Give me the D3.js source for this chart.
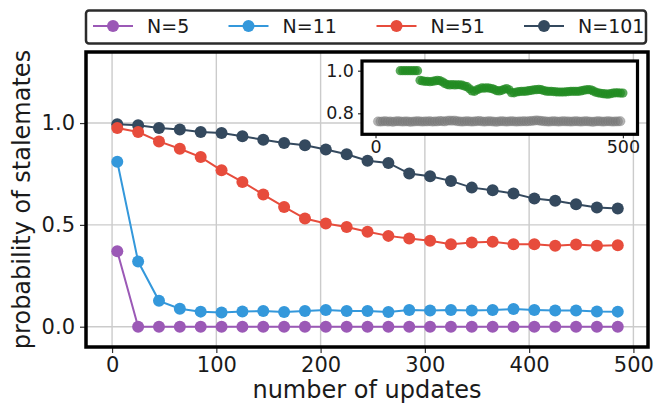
<!DOCTYPE html>
<html>
<head>
<meta charset="utf-8">
<script src="https://cdn.jsdelivr.net/npm/d3@7"></script>
<style>
  html, body { margin: 0; padding: 0; background: #fff; }
  svg { display: block; font-family: "DejaVu Sans", sans-serif; }
</style>
</head>
<body>
<script>
// main chart data
const updates = [5, 25, 45, 65, 85, 105, 125, 145, 165, 185, 205, 225, 245, 265, 285, 305, 325, 345, 365, 385, 405, 425, 445, 465, 485];
const n5 = [0.37, 0, 0, 0, 0, 0, 0, 0, 0, 0, 0, 0, 0, 0, 0, 0, 0, 0, 0, 0, 0, 0, 0, 0, 0];
const n11 = [0.81, 0.32, 0.127, 0.088, 0.074, 0.070, 0.075, 0.077, 0.072, 0.077, 0.082, 0.077, 0.077,
             0.072, 0.082, 0.079, 0.082, 0.080, 0.082, 0.087, 0.082, 0.079, 0.079, 0.075, 0.074];
const n51 = [0.976, 0.956, 0.910, 0.874, 0.833, 0.768, 0.711, 0.649, 0.588, 0.531, 0.507, 0.490, 0.466,
             0.446, 0.433, 0.422, 0.405, 0.414, 0.417, 0.405, 0.405, 0.397, 0.404, 0.397, 0.400];
const n101 = [0.994, 0.989, 0.976, 0.968, 0.956, 0.951, 0.935, 0.918, 0.902, 0.891, 0.870, 0.847, 0.815,
              0.804, 0.752, 0.739, 0.716, 0.683, 0.670, 0.654, 0.629, 0.618, 0.601, 0.585, 0.580];
const seriesNames = ["N=5", "N=11", "N=51", "N=101"];
const seriesColors = ["#9b59b6", "#3498db", "#e74c3c", "#34495e"];
const xTicks = [0, 100, 200, 300, 400, 500];
const yTicks = [0.0, 0.5, 1.0];

// inset data
const grayX = [5, 10, 15, 20, 25, 30, 35, 40, 45, 50, 55, 60, 65, 70, 75, 80, 85, 90, 95, 100,
               105, 110, 115, 120, 125, 130, 135, 140, 145, 150, 155, 160, 165, 170, 175, 180, 185, 190, 195, 200,
               205, 210, 215, 220, 225, 230, 235, 240, 245, 250, 255, 260, 265, 270, 275, 280, 285, 290, 295, 300,
               305, 310, 315, 320, 325, 330, 335, 340, 345, 350, 355, 360, 365, 370, 375, 380, 385, 390, 395, 400,
               405, 410, 415, 420, 425, 430, 435, 440, 445, 450, 455, 460, 465, 470, 475, 480, 485, 490, 495];
const grayY = [0.762, 0.761, 0.762, 0.763, 0.761, 0.762, 0.760, 0.762, 0.763, 0.762,
               0.761, 0.762, 0.762, 0.760, 0.761, 0.762, 0.763, 0.762, 0.761, 0.762,
               0.762, 0.763, 0.761, 0.762, 0.762, 0.764, 0.763, 0.762, 0.765, 0.766,
               0.765, 0.766, 0.763, 0.762, 0.761, 0.762, 0.763, 0.762, 0.761, 0.762,
               0.763, 0.764, 0.762, 0.761, 0.762, 0.763, 0.762, 0.761, 0.760, 0.762,
               0.763, 0.762, 0.761, 0.762, 0.763, 0.762, 0.761, 0.762, 0.762, 0.763,
               0.762, 0.763, 0.764, 0.765, 0.767, 0.766, 0.764, 0.763, 0.762, 0.761,
               0.762, 0.763, 0.762, 0.761, 0.762, 0.763, 0.762, 0.762, 0.761, 0.762,
               0.763, 0.762, 0.761, 0.762, 0.763, 0.762, 0.761, 0.760, 0.762, 0.763,
               0.762, 0.761, 0.762, 0.763, 0.762, 0.761, 0.762, 0.762, 0.763];
const greenX = [50, 55, 60, 65, 70, 75, 80, 85, 90, 95, 100, 105, 110, 115, 120, 125, 130, 135, 140, 145,
                150, 155, 160, 165, 170, 175, 180, 185, 190, 195, 200, 205, 210, 215, 220, 225, 230, 235, 240, 245,
                250, 255, 260, 265, 270, 275, 280, 285, 290, 295, 300, 305, 310, 315, 320, 325, 330, 335, 340, 345,
                350, 355, 360, 365, 370, 375, 380, 385, 390, 395, 400, 405, 410, 415, 420, 425, 430, 435, 440, 445,
                450, 455, 460, 465, 470, 475, 480, 485, 490, 495, 500];
const greenY = [1.0, 1.0, 1.0, 1.0, 1.0, 1.0, 1.0, 1.0, 0.955, 0.952,
                0.950, 0.950, 0.948, 0.950, 0.952, 0.955, 0.953, 0.948, 0.940, 0.935,
                0.933, 0.935, 0.933, 0.934, 0.934, 0.932, 0.928, 0.925, 0.915, 0.905,
                0.903, 0.910, 0.915, 0.919, 0.918, 0.920, 0.918, 0.916, 0.912, 0.906,
                0.905, 0.908, 0.913, 0.916, 0.910, 0.897, 0.896, 0.900, 0.902, 0.903,
                0.903, 0.904, 0.906, 0.908, 0.910, 0.911, 0.912, 0.911, 0.907, 0.904,
                0.903, 0.903, 0.902, 0.901, 0.900, 0.900, 0.900, 0.901, 0.902, 0.903,
                0.903, 0.903, 0.903, 0.905, 0.908, 0.910, 0.911, 0.910, 0.905, 0.899,
                0.896, 0.894, 0.892, 0.891, 0.890, 0.892, 0.895, 0.896, 0.896, 0.895,
                0.895];
const insetXTicks = [0, 500];
const insetYTicks = [0.8, 1.0];

const W = 654, H = 405;
const box = { left: 86, right: 648, top: 52, bottom: 347 };
const inset = { left: 362, right: 637.5, top: 61, bottom: 134.3 };

const svg = d3.select("body").append("svg")
    .attr("width", W)
    .attr("height", H);

const x = d3.scaleLinear().domain([-25, 514]).range([box.left, box.right]);
const y = d3.scaleLinear().domain([-0.0997, 1.349]).range([box.bottom, box.top]);

// grid
const grid = svg.append("g").attr("stroke", "#cbcbcb").attr("stroke-width", 1.4);
grid.selectAll(".vg").data(xTicks).enter().append("line")
    .attr("x1", d => x(d)).attr("x2", d => x(d))
    .attr("y1", box.top).attr("y2", box.bottom);
grid.selectAll(".hg").data(yTicks).enter().append("line")
    .attr("x1", box.left).attr("x2", box.right)
    .attr("y1", d => y(d)).attr("y2", d => y(d));

// series, drawn so the larger N sit underneath
const series = [n5, n11, n51, n101].map((vals, i) => ({
    name: seriesNames[i],
    color: seriesColors[i],
    points: updates.map((u, j) => ({ u: u, v: vals[j] }))
}));

const line = d3.line().x(d => x(d.u)).y(d => y(d.v));

series.slice().reverse().forEach(s => {
    const g = svg.append("g");
    g.append("path")
        .datum(s.points)
        .attr("fill", "none")
        .attr("stroke", s.color)
        .attr("stroke-width", 2)
        .attr("d", line);
    g.selectAll("circle").data(s.points).enter().append("circle")
        .attr("cx", d => x(d.u))
        .attr("cy", d => y(d.v))
        .attr("r", 6)
        .attr("fill", s.color);
});

// axes
const xAxis = svg.append("g").attr("transform", "translate(0," + box.bottom + ")")
    .call(d3.axisBottom(x).tickValues(xTicks).tickFormat(d3.format("d")).tickSize(6).tickPadding(4));
const yAxis = svg.append("g").attr("transform", "translate(" + box.left + ",0)")
    .call(d3.axisLeft(y).tickValues(yTicks).tickFormat(d3.format(".1f")).tickSize(6).tickPadding(5));
[xAxis, yAxis].forEach(a => {
    a.select(".domain").remove();
    a.selectAll(".tick line").attr("stroke", "#333").attr("stroke-width", 1.2);
    a.selectAll(".tick text").attr("fill", "#1a1a1a")
        .style("font-family", "DejaVu Sans").style("font-size", "21px");
});

svg.append("rect")
    .attr("x", box.left).attr("y", box.top)
    .attr("width", box.right - box.left).attr("height", box.bottom - box.top)
    .attr("fill", "none").attr("stroke", "#000").attr("stroke-width", 3.5);

svg.append("text")
    .attr("x", (box.left + box.right) / 2).attr("y", 398)
    .attr("text-anchor", "middle")
    .style("font-size", "24px").attr("fill", "#1a1a1a")
    .text("number of updates");

svg.append("text")
    .attr("transform", "translate(30," + (box.top + box.bottom) / 2 + ") rotate(-90)")
    .attr("text-anchor", "middle")
    .style("font-size", "24px").attr("fill", "#1a1a1a")
    .text("probability of stalemates");

// inset
const ix = d3.scaleLinear().domain([-27.3, 529.5]).range([inset.left, inset.right]);
const iy = d3.scaleLinear().domain([0.7014, 1.0455]).range([inset.bottom, inset.top]);

svg.append("rect")
    .attr("x", inset.left).attr("y", inset.top)
    .attr("width", inset.right - inset.left).attr("height", inset.bottom - inset.top)
    .attr("fill", "#fff");

svg.append("g").selectAll("circle").data(grayX).enter().append("circle")
    .attr("cx", d => ix(d))
    .attr("cy", (d, i) => iy(grayY[i]))
    .attr("r", 4.6)
    .attr("fill", "#7a7a7a")
    .attr("fill-opacity", 0.55)
    .attr("stroke", "#6e6e6e")
    .attr("stroke-opacity", 0.35)
    .attr("stroke-width", 0.8);

svg.append("g").selectAll("circle").data(greenX).enter().append("circle")
    .attr("cx", d => ix(d))
    .attr("cy", (d, i) => iy(greenY[i]))
    .attr("r", 4.6)
    .attr("fill", "#228b22")
    .attr("fill-opacity", 0.75);

const ixAxis = svg.append("g").attr("transform", "translate(0," + inset.bottom + ")")
    .call(d3.axisBottom(ix).tickValues(insetXTicks).tickFormat(d3.format("d")).tickSize(4).tickPadding(2));
const iyAxis = svg.append("g").attr("transform", "translate(" + inset.left + ",0)")
    .call(d3.axisLeft(iy).tickValues(insetYTicks).tickFormat(d3.format(".1f")).tickSize(4).tickPadding(4));
[ixAxis, iyAxis].forEach(a => {
    a.select(".domain").remove();
    a.selectAll(".tick line").attr("stroke", "#333").attr("stroke-width", 1.2);
    a.selectAll(".tick text").attr("fill", "#1a1a1a")
        .style("font-family", "DejaVu Sans").style("font-size", "17.5px");
});

svg.append("rect")
    .attr("x", inset.left).attr("y", inset.top)
    .attr("width", inset.right - inset.left).attr("height", inset.bottom - inset.top)
    .attr("fill", "none").attr("stroke", "#000").attr("stroke-width", 3.2);

// legend
const legend = svg.append("g");
legend.append("rect")
    .attr("x", 86).attr("y", 10.5)
    .attr("width", 560).attr("height", 33)
    .attr("rx", 3)
    .attr("fill", "#fff").attr("stroke", "#2b2b2b").attr("stroke-width", 2.5);

const legendX = [93, 228.5, 376.5, 524];
series.forEach((s, i) => {
    const g = legend.append("g").attr("transform", "translate(" + legendX[i] + ",26)");
    g.append("line").attr("x1", 0).attr("x2", 40).attr("y1", 0).attr("y2", 0)
        .attr("stroke", s.color).attr("stroke-width", 2);
    g.append("circle").attr("cx", 20).attr("cy", 0).attr("r", 6).attr("fill", s.color);
    g.append("text").attr("x", 54).attr("y", 6.8)
        .style("font-size", "19px").attr("fill", "#1a1a1a")
        .text(s.name);
});
</script>
</body>
</html>
